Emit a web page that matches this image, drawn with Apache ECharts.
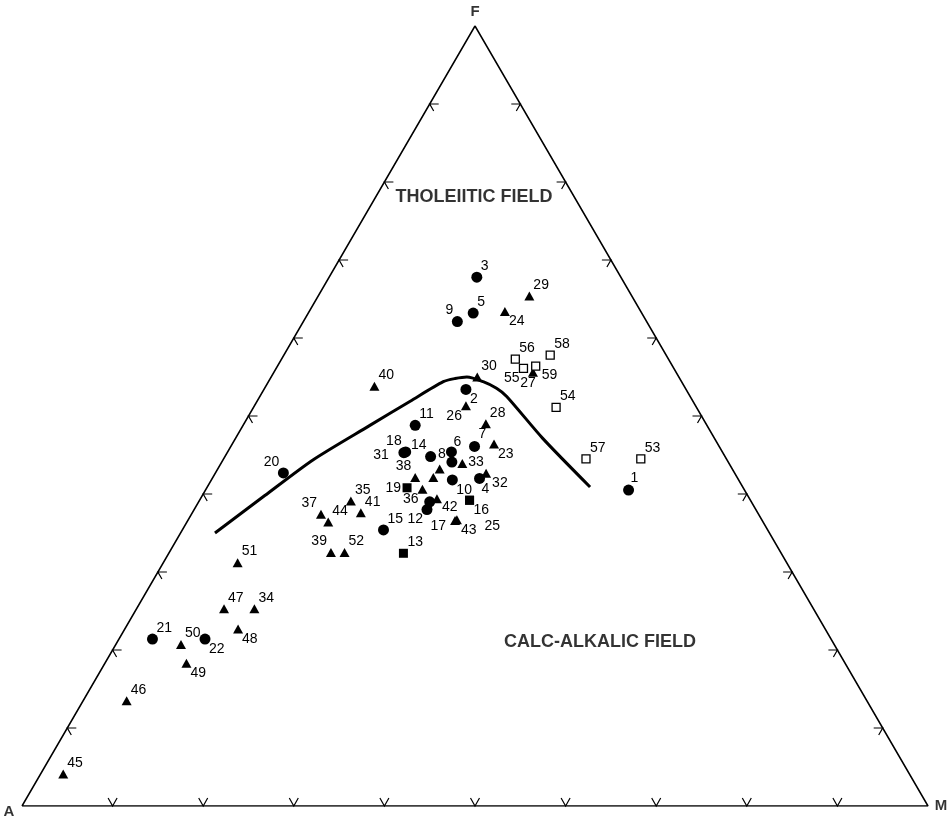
<!DOCTYPE html>
<html><head><meta charset="utf-8">
<script src="https://cdn.jsdelivr.net/npm/echarts@6/dist/echarts.min.js"></script>
<style>html,body{margin:0;padding:0;background:#fff}#c{width:951px;height:820px}</style>
</head><body><div id="c"></div>
<script>
// Ternary AFM data: [label, F %, M %]  (A = 100 - F - M)
const circles = [
  ['1',40.5,46.7],['2',53.4,22.3],['3',67.8,16.3],['4',42.0,29.5],['5',63.2,18.2],
  ['6',45.4,24.7],['7',46.1,26.9],['8',44.1,25.4],['9',62.1,17.0],['10',41.8,26.6],
  ['11',48.8,19.0],['12',38.0,25.7],['',39.0,25.5],['14',44.8,22.7],['15',35.4,22.2],
  ['18',45.4,19.65],['31',45.3,19.5],['20',42.7,7.5],['21',21.4,3.7],['22',21.4,9.5]
];
const triangles = [
  ['17',36.6,29.5],['23',46.4,28.9],['24',63.4,21.6],['26',51.3,23.35],['27',55.6,28.6],
  ['28',49.0,26.7],['29',65.4,23.3],['30',55.0,22.75],['32',42.65,29.9],['33',43.9,26.65],
  ['34',25.3,13.0],['35',39.1,16.75],['36',40.6,23.9],['37',37.4,14.3],['38',42.1,22.35],
  ['39',32.5,17.85],['40',53.8,12.0],['41',37.6,18.6],['42',39.4,26.1],['43',36.7,29.65],
  ['44',36.4,15.6],['45',4.1,2.5],['46',13.5,4.8],['47',25.3,9.65],['48',22.7,12.5],
  ['49',18.3,9.0],['50',20.7,7.2],['51',31.2,8.2],['52',32.5,19.35],['',43.2,24.5],['',42.1,24.35]
];
const filledSquares = [['13',32.4,25.9],['16',39.2,29.8],['19',40.8,22.1],['25',39.2,29.8]];
const openSquares = [
  ['53',44.5,46.05],['54',51.1,33.4],['55',56.1,27.3],['56',57.3,25.8],
  ['57',44.5,40.0],['58',57.8,29.4],['59',56.4,28.5]
];
// Boundary between tholeiitic and calc-alkalic fields: F %, M %
const boundaryF = [35.0,39.8,44.4,48.8,51.9,54.4,54.8,55.0,54.4,53.55,52.5,47.1,40.9];
const boundaryM = [3.8,6.9,9.95,14.0,16.9,19.3,20.4,21.6,23.7,25.6,27.25,33.95,42.25];
// Vertices [name, F, M]
const vertices = [['A',0,0],['M',0,100],['F',100,0]];
const fieldLabels = [['THOLEIITIC FIELD',78.1,10.85],['CALC-ALKALIC FIELD',21.0,53.3]];
const tickSteps = [10,20,30,40,50,60,70,80,90];

// label placement (layout only)
const TR=['left',4,-11], TL=['right',-4,-11], BR=['left',4,10], BL=['right',-4,10];
const place = {
  '1':['left',2,-12],'2':BR,'3':TR,'4':['left',2,11],'5':TR,'6':['left',2,-10],'7':['left',4,-12],
  '8':['right',-6,-8],'9':TL,'10':BR,'11':TR,'12':BL,'13':TR,'14':TL,'15':TR,'16':BR,
  '17':['right',-9,6],'18':TL,'19':['right',-6,0],'20':TL,'21':TR,'22':BR,'23':BR,'24':BR,
  '25':['left',15,26],'26':BL,'27':['center',-5,11],'28':TR,'29':TR,'30':TR,'31':['right',-15,2],
  '32':['left',6,10],'33':['left',6,-1],'34':TR,'35':TR,'36':BL,'37':TL,'38':TL,'39':TL,'40':TR,
  '41':TR,'42':['left',5,8],'43':BR,'44':TR,'45':TR,'46':TR,'47':TR,'48':BR,'49':BR,'50':TR,
  '51':TR,'52':TR,'53':TR,'54':TR,'55':BL,'56':TR,'57':TR,'58':TR,'59':['left',6,9]
};

function xy(F, M){ return [M + F/2, F]; }
function pts(list){
  return list.map(function(d){
    const p = place[d[0]] || TR;
    return {
      value: xy(d[1], d[2]), name: d[0],
      label: { show: d[0] !== '', position: 'inside', align: p[0], verticalAlign: 'middle', offset: [p[1], p[2]] }
    };
  });
}
const labelFont = { color:'#000', fontSize:14, fontFamily:'Liberation Sans, Arial, sans-serif', formatter:'{b}' };

const ticks = [];
tickSteps.forEach(function(v){
  ticks.push(xy(v, 0).concat([0]));       // left side
  ticks.push(xy(v, 100 - v).concat([1])); // right side
  ticks.push(xy(0, v).concat([2]));       // base
});

const outline = [vertices[0], vertices[1], vertices[2], vertices[0]].map(function(v){ return xy(v[1], v[2]); });
const boundary = boundaryF.map(function(f, i){ return xy(f, boundaryM[i]); });
const vOff = {A:[-13,6], M:[13,0], F:[0,-14]};

const chart = echarts.init(document.getElementById('c'));
chart.setOption({
  animation: false,
  backgroundColor: '#fff',
  grid: { left: 22, top: 26, width: 906, height: 780 },
  xAxis: { type:'value', min:0, max:100, show:false },
  yAxis: { type:'value', min:0, max:100, show:false },
  series: [
    { type:'line', data: outline, symbol:'none', silent:true,
      lineStyle:{ color:'#000', width:1.5 }, z:1 },
    { type:'custom', data: ticks, silent:true, z:1,
      renderItem: function(params, api){
        const p = api.coord([api.value(0), api.value(1)]);
        const s = api.value(2);
        let q;
        if (s === 0) q = [[p[0]+9,p[1]],[p[0],p[1]],[p[0]+4,p[1]+7]];
        else if (s === 1) q = [[p[0]-9,p[1]],[p[0],p[1]],[p[0]-4,p[1]+7]];
        else q = [[p[0]-4.5,p[1]-8],[p[0],p[1]],[p[0]+4.5,p[1]-8]];
        return { type:'polyline', shape:{ points:q }, style:{ stroke:'#000', lineWidth:1.2, fill:null } };
      }
    },
    { type:'line', data: boundary, symbol:'none', smooth:0.25, silent:true,
      lineStyle:{ color:'#000', width:3 }, z:2 },
    { type:'scatter', data: pts(circles), symbol:'circle', symbolSize:11,
      itemStyle:{ color:'#000', opacity:1 }, label: labelFont, z:3 },
    { type:'scatter', data: pts(triangles), symbol:'triangle', symbolSize:[10,9],
      itemStyle:{ color:'#000', opacity:1 }, label: labelFont, z:3 },
    { type:'scatter', data: pts(filledSquares), symbol:'rect', symbolSize:9,
      itemStyle:{ color:'#000', opacity:1 }, label: labelFont, z:3 },
    { type:'scatter', data: pts(openSquares), symbol:'rect', symbolSize:8,
      itemStyle:{ color:'#fff', borderColor:'#000', borderWidth:1.3, opacity:1 }, label: labelFont, z:3 },
    { type:'scatter', symbolSize:0, silent:true, z:4,
      data: vertices.map(function(v){ return { name:v[0], value: xy(v[1], v[2]),
        label:{ offset: vOff[v[0]] } }; }),
      label:{ show:true, position:'inside', formatter:'{b}', color:'#000', fontSize:15, fontWeight:'bold',
        fontFamily:'Liberation Sans, Arial, sans-serif' } },
    { type:'scatter', symbolSize:0, silent:true, z:4,
      data: fieldLabels.map(function(v){ return { name:v[0], value: xy(v[1], v[2]) }; }),
      label:{ show:true, position:'inside', formatter:'{b}', color:'#000', fontSize:18, fontWeight:'bold',
        fontFamily:'Liberation Sans, Arial, sans-serif' } }
  ]
});
</script></body></html>
